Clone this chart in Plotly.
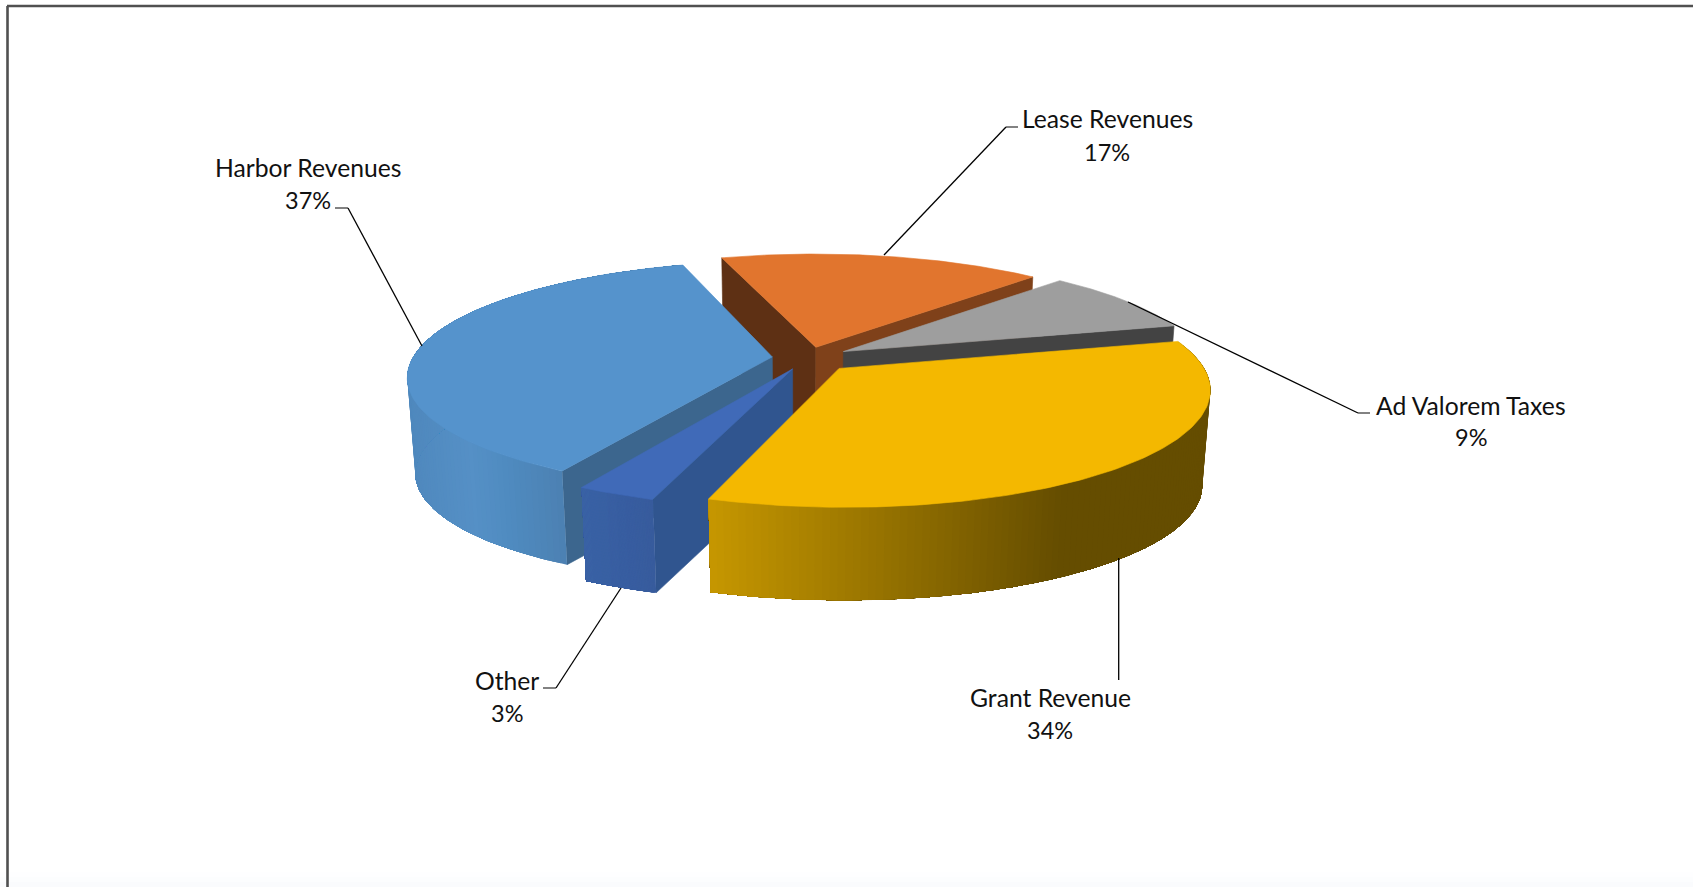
import numpy as np
import plotly.graph_objects as go

# Revenue shares, in drawing order around the pie (clockwise from the right)
categories = ["Grant Revenue", "Other", "Harbor Revenues", "Lease Revenues", "Ad Valorem Taxes"]
shares = [34, 3, 37, 17, 9]
explode = [0.125, 0.105, 0.10, 0.10, 0.115]

START_ANGLE = -14.1      # degrees, clockwise from east
CENTER = (808.0, 358.0)  # page position of the pie's axis
RX, RY = 359.5, 112.0    # horizontal and foreshortened radii
PERSPECTIVE = 0.166      # how quickly the disc grows towards the viewer
DEPTH = 96.0             # height of the extruded pie
BASE_SCALE = 0.98        # the lower face sits a little further away

TOP = {"Grant Revenue": "#F4B800", "Other": "#406AB8", "Harbor Revenues": "#5593CC",
       "Lease Revenues": "#E1752E", "Ad Valorem Taxes": "#9E9E9E"}

# Shading of the curved outer walls: (page x, rgb) stops
RIM = {
    "Grant Revenue": [(708, (198, 151, 0)), (1062, (101, 77, 0)), (1250, (101, 77, 0))],
    "Other": [(575, (58, 99, 166)), (630, (56, 93, 160)), (660, (56, 92, 156))],
    "Harbor Revenues": [(405, (79, 136, 189)), (470, (85, 144, 198)), (505, (79, 139, 192)), (565, (76, 128, 178))],
}
# Flat cut walls seen from the front: slice -> [(edge, colour)]
CUT = {
    "Other": [("start", "#30558F")],
    "Harbor Revenues": [("start", "#3C668E")],
    "Lease Revenues": [("start", "#5E3014"), ("end", "#7F411A")],
    "Ad Valorem Taxes": [("end", "#434343")],
}
PAINT_ORDER = ["Lease Revenues", "Ad Valorem Taxes", "Harbor Revenues", "Other", "Grant Revenue"]

# Label text anchors and the elbowed leader lines that tie them to the slices
LABEL_AT = {
    "Harbor Revenues": (308, 167, 200), "Lease Revenues": (1107, 118, 152),
    "Ad Valorem Taxes": (1471, 405, 437), "Grant Revenue": (1050, 697, 730),
    "Other": (507, 680, 713),
}
LEADER_STUBS = [
    [(335, 208), (348, 208)],
    [(1018, 127), (1006, 127)],
    [(1370, 413), (1358, 413)],
    [(543, 688), (556, 688)],
]
LEADERS = [
    [(348, 208), (422, 346)],
    [(1006, 127), (884, 255)],
    [(1358, 413), (1128, 302)],
    [(1118.7, 558), (1118.7, 680)],
    [(556, 688), (621, 588)],
]
NAME_FONT = dict(family="Lato", size=24.7, color="#111111")
SHARE_FONT = dict(family="Lato", size=23.5, color="#111111")


def project(px, py, lower=False):
    """Map pie-plane coordinates to page coordinates through a simple perspective."""
    s = 1.0 / (1.0 - PERSPECTIVE * py)
    x, y = RX * px * s, RY * py * s
    if lower:
        return CENTER[0] + BASE_SCALE * x, CENTER[1] + BASE_SCALE * y + DEPTH
    return CENTER[0] + x, CENTER[1] + y


def polygon(fig, xs, ys, color, edge=0.6):
    fig.add_trace(go.Scatter(
        x=list(xs), y=list(ys), mode="lines", fill="toself", fillcolor=color,
        line=dict(color=color, width=edge), hoverinfo="skip", showlegend=False,
    ))


def rim_color(stops, x):
    at = [s[0] for s in stops]
    r, g, b = (np.interp(x, at, [s[1][i] for s in stops]) for i in range(3))
    return f"rgb({r:.0f},{g:.0f},{b:.0f})"


# Angular extent of each slice follows from its share
sweep = np.array(shares) * 3.6
starts = START_ANGLE + np.concatenate([[0], np.cumsum(sweep)[:-1]])
slices = {}
for name, a0, da, e in zip(categories, starts, sweep, explode):
    mid = np.radians(a0 + da / 2)
    slices[name] = dict(a0=a0, a1=a0 + da, ox=e * np.cos(mid), oy=e * np.sin(mid))

fig = go.Figure()

for name in PAINT_ORDER:
    sl = slices[name]
    ox, oy = sl["ox"], sl["oy"]
    theta = np.radians(np.linspace(sl["a0"], sl["a1"], 121))
    px, py = ox + np.cos(theta), oy + np.sin(theta)

    # Flat walls exposed by the exploded cut
    for edge, color in CUT.get(name, []):
        ang = np.radians(sl["a0"] if edge == "start" else sl["a1"])
        ex, ey = ox + np.cos(ang), oy + np.sin(ang)
        a_top, b_top = project(ox, oy), project(ex, ey)
        b_low, a_low = project(ex, ey, True), project(ox, oy, True)
        polygon(fig, [a_top[0], b_top[0], b_low[0], a_low[0], a_top[0]],
                [a_top[1], b_top[1], b_low[1], a_low[1], a_top[1]], color)

    # Curved outer wall: overlapping bands, each painted across to the arc's far
    # end so that no seam can show between neighbours
    if name in RIM:
        xt, yt = project(px, py)
        xb, yb = project(px, py, True)
        for i in range(len(theta) - 1):
            polygon(fig,
                    np.r_[xt[i:], xb[i:][::-1], xt[i]],
                    np.r_[yt[i:], yb[i:][::-1], yt[i]],
                    rim_color(RIM[name], (xt[i] + xt[i + 1]) / 2), edge=0)

    # Top face
    xt, yt = project(np.r_[ox, px, ox], np.r_[oy, py, oy])
    polygon(fig, xt, yt, TOP[name])

# Leader lines: grey elbows, black runs
for pts in LEADER_STUBS:
    fig.add_trace(go.Scatter(
        x=[p[0] for p in pts], y=[p[1] for p in pts], mode="lines",
        line=dict(color="#595959", width=1.5), hoverinfo="skip", showlegend=False,
    ))
for pts in LEADERS:
    fig.add_trace(go.Scatter(
        x=[p[0] for p in pts], y=[p[1] for p in pts], mode="lines",
        line=dict(color="#000000", width=1.3), hoverinfo="skip", showlegend=False,
    ))

# Two-line data labels: category and share
annotations = []
for name, value in zip(categories, shares):
    x, y1, y2 = LABEL_AT[name]
    annotations.append(dict(x=x, y=y1, text=name, showarrow=False, font=NAME_FONT,
                            xanchor="center", yanchor="middle"))
    annotations.append(dict(x=x, y=y2, text=f"{value}%", showarrow=False, font=SHARE_FONT,
                            xanchor="center", yanchor="middle"))

# Faint tint fading in along the lower page edge
tint = [dict(type="rect", x0=0, x1=1693, y0=y0, y1=887, line=dict(width=0),
             fillcolor=c, layer="below")
        for y0, c in ((872, "#FEFEFF"), (877, "#FCFDFE"), (882, "#FAFBFD"))]

fig.update_layout(
    width=1693, height=887, margin=dict(l=0, r=0, t=0, b=0, pad=0),
    paper_bgcolor="white", plot_bgcolor="white", showlegend=False,
    xaxis=dict(range=[0, 1693], visible=False, fixedrange=True),
    yaxis=dict(range=[887, 0], visible=False, fixedrange=True),
    annotations=annotations,
    shapes=tint + [
        dict(type="line", x0=7.5, x1=7.5, y0=6, y1=887, line=dict(color="#505050", width=2.6)),
        dict(type="line", x0=7, x1=1693, y0=6, y1=6, line=dict(color="#505050", width=2.6)),
    ],
)
fig.write_html("out.html", config=dict(displayModeBar=False))
